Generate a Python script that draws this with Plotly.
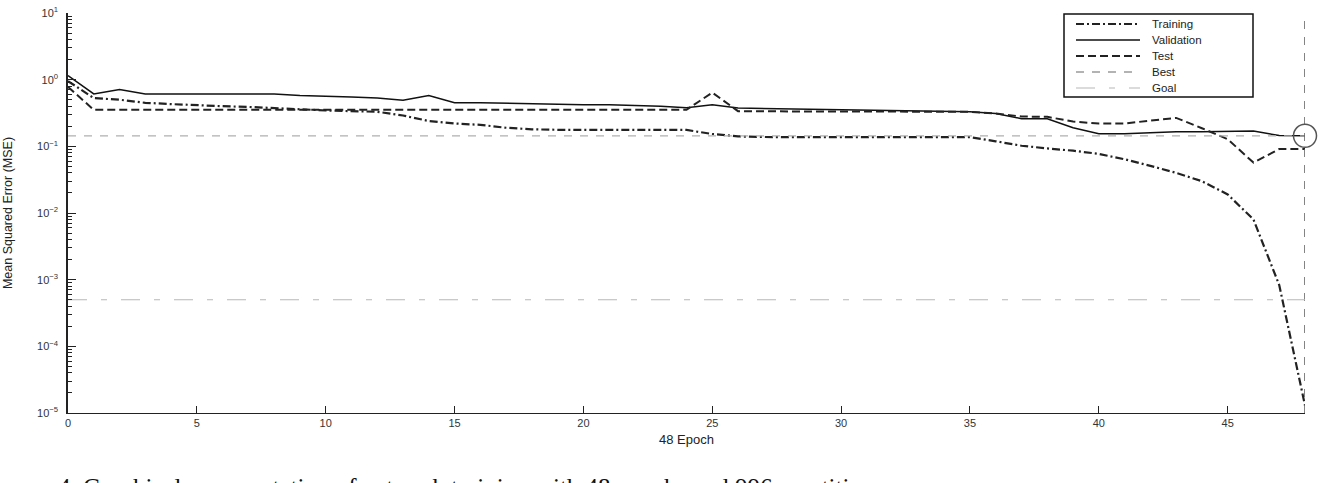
import plotly.graph_objects as go

epochs = list(range(49))

training = [0.95, 0.53, 0.50, 0.45, 0.43, 0.42, 0.40, 0.39, 0.37, 0.36,
            0.345, 0.34, 0.33, 0.29, 0.24, 0.22, 0.21, 0.19, 0.18, 0.177,
            0.176, 0.176, 0.176, 0.176, 0.176, 0.153, 0.141, 0.138, 0.137, 0.137,
            0.137, 0.137, 0.137, 0.137, 0.137, 0.137, 0.119, 0.102, 0.093, 0.086,
            0.077, 0.064, 0.051, 0.040, 0.030, 0.019, 0.008, 0.00083, 0.000013]

validation = [1.15, 0.61, 0.71, 0.61, 0.61, 0.61, 0.61, 0.61, 0.61, 0.58,
              0.57, 0.55, 0.53, 0.49, 0.58, 0.45, 0.45, 0.44, 0.43, 0.43,
              0.42, 0.42, 0.41, 0.40, 0.38, 0.42, 0.375, 0.37, 0.36, 0.355,
              0.35, 0.345, 0.34, 0.335, 0.33, 0.33, 0.31, 0.26, 0.26, 0.19,
              0.155, 0.155, 0.16, 0.165, 0.165, 0.168, 0.17, 0.145, 0.144]

test = [0.78, 0.353, 0.353, 0.353, 0.353, 0.353, 0.353, 0.353, 0.353, 0.353,
        0.353, 0.353, 0.353, 0.353, 0.353, 0.353, 0.353, 0.353, 0.353, 0.353,
        0.353, 0.353, 0.353, 0.353, 0.353, 0.64, 0.337, 0.335, 0.334, 0.333,
        0.332, 0.331, 0.33, 0.33, 0.33, 0.33, 0.31, 0.28, 0.277, 0.235,
        0.22, 0.22, 0.243, 0.267, 0.187, 0.128, 0.057, 0.091, 0.091]

best_epoch = 48
best_value = 0.144
goal_value = 5e-4

x_ticks = [0, 5, 10, 15, 20, 25, 30, 35, 40, 45]
y_exps = [-5, -4, -3, -2, -1, 0, 1]
legend_names = ["Training", "Validation", "Test", "Best", "Goal"]

FONT = "Liberation Sans, Arial, sans-serif"

# figure geometry (pixels) for paper-coordinate conversions
W, H = 1329, 483
ML, MR, MT, MB = 68, 24, 13, 70
PW, PH = W - ML - MR, H - MT - MB


def px(xpix):
    return (xpix - ML) / PW


def py(ypix):
    return (H - MB - ypix) / PH


styles = {
    "Training": dict(color="#222222", width=2.2, dash="8px,3px,2px,3px"),
    "Validation": dict(color="#111111", width=1.5),
    "Test": dict(color="#222222", width=2, dash="8px,4px"),
    "Best": dict(color="#9a9a9a", width=1.3, dash="8px,8px"),
    "Goal": dict(color="#b8b8b8", width=1.2, dash="19px,14px,6px,14px"),
}

fig = go.Figure()

fig.add_trace(go.Scatter(x=epochs, y=training, mode="lines", name="Training",
                         line=styles["Training"]))
fig.add_trace(go.Scatter(x=epochs, y=validation, mode="lines", name="Validation",
                         line=styles["Validation"]))
fig.add_trace(go.Scatter(x=epochs, y=test, mode="lines", name="Test",
                         line=styles["Test"]))
fig.add_trace(go.Scatter(x=[0, best_epoch], y=[best_value, best_value], mode="lines",
                         name="Best", line=dict(color="#b0b0b0", width=1.2, dash="8px,8px")))
fig.add_trace(go.Scatter(x=[best_epoch, best_epoch], y=[1e-5, 10], mode="lines",
                         name="Best", cliponaxis=False,
                         line=dict(color="#666666", width=1.6, dash="8px,8px")))
fig.add_trace(go.Scatter(x=[0, best_epoch], y=[goal_value, goal_value], mode="lines",
                         name="Goal", line=styles["Goal"]))
fig.add_trace(go.Scatter(x=[best_epoch], y=[best_value], mode="markers", name="Best",
                         cliponaxis=False,
                         marker=dict(symbol="circle-open", size=23, color="#555555",
                                     line=dict(color="#555555", width=1.5))))

minor_vals = [m * 10 ** e for e in range(-5, 1) for m in range(2, 10)]

fig.update_layout(
    width=W, height=H,
    margin=dict(l=ML, r=MR, t=MT, b=MB, autoexpand=False),
    paper_bgcolor="white", plot_bgcolor="white",
    font=dict(family=FONT, size=11, color="#222222"),
    showlegend=False,
    xaxis=dict(range=[0, 48], tickvals=x_ticks, ticks="inside", ticklen=7,
               automargin=False,
               tickcolor="#222222", showline=True, linecolor="#222222", linewidth=1.2,
               showgrid=False, zeroline=False,
               tickfont=dict(family=FONT, size=11, color="#333333"),
               title=dict(text="48 Epoch", standoff=6,
                          font=dict(family=FONT, size=13, color="#222222"))),
    yaxis=dict(type="log", range=[-5, 1],
               automargin=False,
               tickvals=[10 ** e for e in y_exps],
               ticktext=["10<sup>%s</sup>" % (str(e).replace("-", "−")) for e in y_exps],
               ticks="inside", ticklen=8, tickcolor="#222222",
               ticklabelstandoff=6,
               minor=dict(tickvals=minor_vals, ticks="inside", ticklen=4, tickcolor="#222222"),
               showline=True, linecolor="#222222", linewidth=1.5,
               showgrid=False, zeroline=False,
               tickfont=dict(family=FONT, size=11, color="#333333"),
               title=dict(text="Mean Squared Error (MSE)", standoff=22,
                          font=dict(family=FONT, size=12.5, color="#222222"))),
)

# hand-drawn legend box (MATLAB style)
fig.add_shape(type="rect", xref="paper", yref="paper",
              x0=px(1064), x1=px(1253), y0=py(97), y1=py(14),
              line=dict(color="#111111", width=1.5), fillcolor="white", layer="above")
item_y = [24, 40, 56, 72, 88]
for name, yy in zip(legend_names, item_y):
    fig.add_shape(type="line", xref="paper", yref="paper",
                  x0=px(1076), x1=px(1140), y0=py(yy), y1=py(yy),
                  line=styles[name], layer="above")
    fig.add_annotation(text=name, xref="paper", yref="paper",
                       x=px(1150), y=py(yy), xanchor="left", yanchor="middle",
                       showarrow=False,
                       font=dict(family=FONT, size=11.5, color="#222222"))

fig.add_annotation(
    text="4. Graphical representation of network training with 48 epochs and 996 repetitions",
    xref="paper", yref="paper", x=px(56), y=py(487),
    xanchor="left", yanchor="middle", showarrow=False,
    font=dict(family="Liberation Serif, Times New Roman, serif", size=25, color="#111111"))

fig.write_html("out.html")
